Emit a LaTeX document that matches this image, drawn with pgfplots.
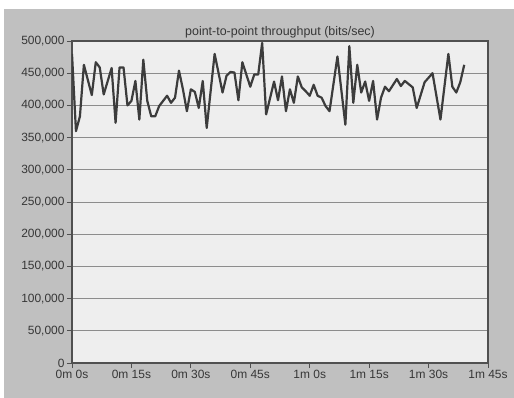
\documentclass[border=0pt]{standalone}
\usepackage{fontspec}
\setmainfont{Liberation Sans}
\usepackage{pgfplots}
\pgfplotsset{compat=1.18}

\definecolor{panelgray}{RGB}{192,192,192}
\definecolor{plotbg}{RGB}{238,238,238}
\definecolor{gridgray}{RGB}{140,140,140}
\definecolor{framegray}{RGB}{80,80,80}
\definecolor{linegray}{RGB}{60,60,60}
\definecolor{textgray}{RGB}{55,55,55}

\begin{document}
\begin{tikzpicture}
  % page and panel background
  \fill[white] (-72bp,-35bp) rectangle (442bp,363bp);
  \fill[panelgray] (-68bp,-35bp) rectangle (442bp,354bp);
  \begin{axis}[
    at={(0,0)}, anchor=origin,
    scale only axis,
    width=416bp, height=322bp,
    xmin=0, xmax=105,
    ymin=0, ymax=500000,
    xtick={0,15,30,45,60,75,90,105},
    xticklabels={0m 0s,0m 15s,0m 30s,0m 45s,1m 0s,1m 15s,1m 30s,1m 45s},
    ytick={0,50000,...,500000},
    scaled y ticks=false,
    /pgf/number format/.cd, fixed, 1000 sep={,}, assume math mode=true,
    /pgfplots/.cd,
    ymajorgrids,
    grid style={gridgray, line width=0.9bp},
    axis line style={framegray, line width=1.3bp},
    tick style={framegray, line width=0.9bp},
    tick align=outside,
    major tick length=5bp,
    xtick pos=bottom, ytick pos=left,
    axis background/.style={fill=plotbg},
    tick label style={font=\fontsize{12}{14}\selectfont, text=textgray},
    yticklabel style={xshift=1bp},
    xticklabel style={yshift=1bp},
    title={point-to-point throughput (bits/sec)},
    title style={font=\fontsize{12.5}{14}\selectfont, text=textgray, yshift=-7bp},
  ]
    \addplot[linegray, line width=2.2bp, line join=round] coordinates {
      (0,480000) (1,360000) (2,383000) (3,463000) (5,416000) (6,467000)
      (7,459000) (8,417000) (10,458000) (11,373000) (12,459000) (13,459000)
      (14,400000) (15,407000) (16,438000) (17,378000) (18,471000) (19,407000)
      (20,383000) (21,383000) (22,399000) (24,415000) (25,404000) (26,412000)
      (27,454000) (28,425000) (29,391000) (30,425000) (31,421000) (32,396000)
      (33,438000) (34,365000) (36,480000) (38,420000) (39,446000) (40,452000)
      (41,451000) (42,408000) (43,467000) (45,429000) (46,448000) (47,448000)
      (48,497000) (49,386000) (51,437000) (52,408000) (53,445000) (54,391000)
      (55,425000) (56,404000) (57,445000) (58,428000) (59,422000) (60,415000)
      (61,432000) (62,415000) (63,412000) (64,399000) (65,391000) (67,476000)
      (69,370000) (70,492000) (71,404000) (72,463000) (73,420000) (74,437000)
      (75,407000) (76,438000) (77,378000) (78,412000) (79,429000) (80,422000)
      (82,441000) (83,430000) (84,438000) (86,428000) (87,396000) (89,436000)
      (91,450000) (93,378000) (95,480000) (96,429000) (97,420000) (98,436000)
      (99,463000)
    };
  \end{axis}
\end{tikzpicture}
\end{document}
